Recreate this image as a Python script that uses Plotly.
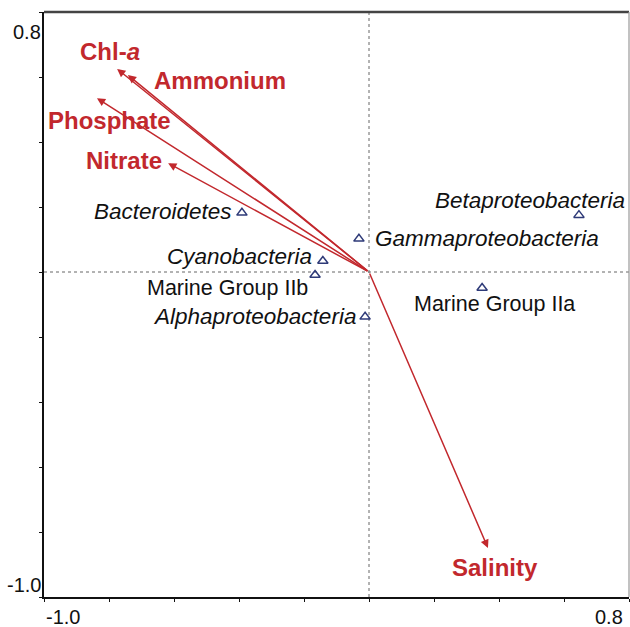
import plotly.graph_objects as go

# ---- data ----
env_vars = ["Chl-a", "Ammonium", "Phosphate", "Nitrate", "Salinity"]
env_x = [-0.775, -0.742, -0.837, -0.618, 0.366]
env_y = [0.625, 0.606, 0.535, 0.335, -0.849]

species = ["Bacteroidetes", "Gammaproteobacteria", "Cyanobacteria", "Marine Group IIb",
           "Alphaproteobacteria", "Betaproteobacteria", "Marine Group IIa"]
sp_x = [-0.391, -0.031, -0.142, -0.166, -0.012, 0.646, 0.348]
sp_y = [0.182, 0.102, 0.034, -0.009, -0.138, 0.175, -0.049]
sp_italic = [True, True, True, False, True, True, False]

tick_vals = [-1.0, -0.8, -0.6, -0.4, -0.2, 0.0, 0.2, 0.4, 0.6, 0.8]
axis_min, axis_max = -1.0, 0.8
x_tick_labels = ["-1.0", "0.8"]
y_tick_labels = ["-1.0", "0.8"]

# ---- styles ----
RED = "#c2282d"
NAVY = "#2e3a78"
FONT = "Liberation Sans, Arial, sans-serif"

env_label_style = {
    "Chl-a": dict(xshift=-7, yshift=17, xanchor="center"),
    "Ammonium": dict(xshift=92, yshift=-5, xanchor="center"),
    "Phosphate": dict(xshift=13, yshift=-22, xanchor="center"),
    "Nitrate": dict(xshift=-44, yshift=3, xanchor="center"),
    "Salinity": dict(xshift=7, yshift=-20, xanchor="center"),
}
sp_label_style = {
    "Bacteroidetes": dict(xshift=-8, yshift=1, xanchor="right"),
    "Gammaproteobacteria": dict(xshift=14, yshift=0, xanchor="left"),
    "Cyanobacteria": dict(xshift=-9, yshift=4, xanchor="right"),
    "Marine Group IIb": dict(xshift=-5, yshift=-13, xanchor="right"),
    "Alphaproteobacteria": dict(xshift=-7, yshift=0, xanchor="right"),
    "Betaproteobacteria": dict(xshift=48, yshift=15, xanchor="right"),
    "Marine Group IIa": dict(xshift=12, yshift=-16, xanchor="center"),
}

fig = go.Figure()

fig.add_trace(go.Scatter(
    x=sp_x, y=sp_y, mode="markers",
    marker=dict(symbol="triangle-up-open", size=9, color=NAVY, line=dict(width=1.5, color=NAVY)),
    hoverinfo="text", text=species, showlegend=False,
))

annotations = []
for name, ex, ey in zip(env_vars, env_x, env_y):
    annotations.append(dict(
        x=ex, y=ey, ax=0, ay=0, xref="x", yref="y", axref="x", ayref="y",
        text="", showarrow=True, arrowhead=2, arrowsize=1.1, arrowwidth=1.5,
        arrowcolor=RED, standoff=0, startstandoff=0,
    ))
    label = "Chl-<i>a</i>" if name == "Chl-a" else name
    st = env_label_style[name]
    annotations.append(dict(
        x=ex, y=ey, xref="x", yref="y", text="<b>" + label + "</b>", showarrow=False,
        font=dict(family=FONT, size=24, color=RED), yanchor="middle", **st,
    ))

for name, sx, sy, it in zip(species, sp_x, sp_y, sp_italic):
    st = sp_label_style[name]
    annotations.append(dict(
        x=sx, y=sy, xref="x", yref="y", text=("<i>" + name + "</i>") if it else name,
        showarrow=False, font=dict(family=FONT, size=22.5 if it else 21.5, color="#111111"),
        yanchor="middle", **st,
    ))

TICKFONT = dict(family=FONT, size=20, color="#111")
annotations += [
    dict(x=axis_min, y=0, xref="x", yref="paper", text=x_tick_labels[0], showarrow=False,
         xanchor="left", yanchor="top", yshift=-7, font=TICKFONT),
    dict(x=axis_max, y=0, xref="x", yref="paper", text=x_tick_labels[1], showarrow=False,
         xanchor="right", yanchor="top", yshift=-7, xshift=-4, font=TICKFONT),
    dict(x=0, y=axis_min, xref="paper", yref="y", text=y_tick_labels[0], showarrow=False,
         xanchor="right", yanchor="bottom", xshift=-1, yshift=-1, font=TICKFONT),
    dict(x=0, y=axis_max, xref="paper", yref="y", text=y_tick_labels[1], showarrow=False,
         xanchor="right", yanchor="top", xshift=-1, yshift=-7, font=TICKFONT),
]

shapes = [
    dict(type="line", xref="x", yref="y", x0=0, x1=0, y0=axis_min, y1=axis_max,
         line=dict(color="#666666", width=1, dash="dot"), layer="below"),
    dict(type="line", xref="x", yref="y", x0=axis_min, x1=axis_max, y0=0, y1=0,
         line=dict(color="#666666", width=1, dash="dot"), layer="below"),
    dict(type="line", xref="paper", yref="paper", x0=0, x1=1, y0=1, y1=1,
         line=dict(color="#444444", width=2.5)),
    dict(type="line", xref="paper", yref="paper", x0=1, x1=1, y0=0, y1=1,
         line=dict(color="#999999", width=1.2)),
]

axis_common = dict(
    range=[axis_min, axis_max], tickvals=tick_vals, showticklabels=False,
    ticks="outside", ticklen=3, tickwidth=1.3, tickcolor="#111",
    showline=True, linecolor="#111", linewidth=2, showgrid=False, zeroline=False,
    fixedrange=True,
)

fig.update_layout(
    width=630, height=627, autosize=False,
    margin=dict(l=44, r=1, t=12, b=30),
    paper_bgcolor="white", plot_bgcolor="white",
    xaxis=axis_common, yaxis=axis_common,
    annotations=annotations, shapes=shapes,
    font=dict(family=FONT),
)

fig.write_html(
    "out.html",
    config={"displayModeBar": False},
    post_script="document.body.style.margin='0';document.body.style.overflow='hidden';",
)
